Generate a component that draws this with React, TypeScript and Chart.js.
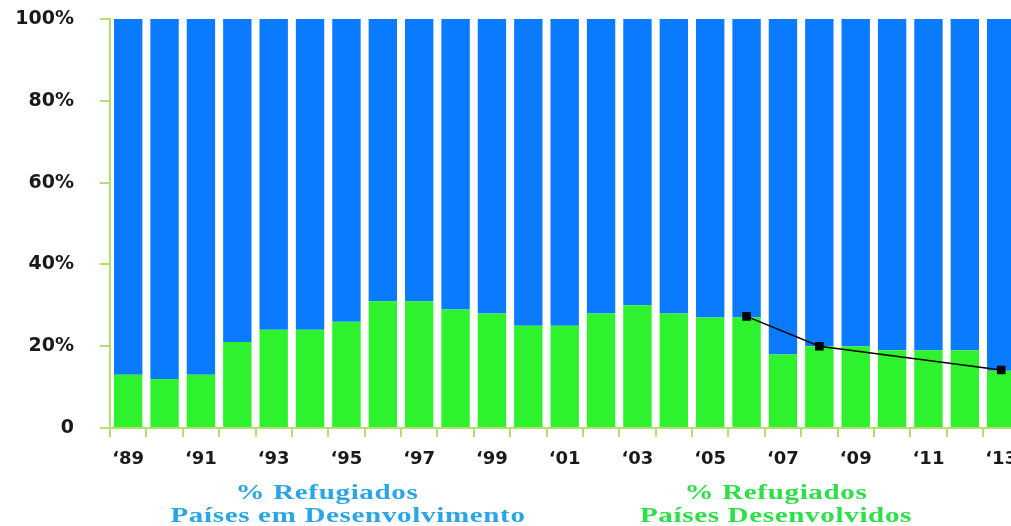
import React, { useEffect, useRef } from 'react';
import { Chart, registerables } from 'chart.js';

Chart.register(...registerables);

const years = ['89', '90', '91', '92', '93', '94', '95', '96', '97', '98', '99', '00', '01', '02', '03', '04', '05', '06', '07', '08', '09', '10', '11', '12', '13'];
const tickLabels = years.map((y) => '\u2018' + y);
const developedShare = [13, 12, 13, 21, 24, 24, 26, 31, 31, 29, 28, 25, 25, 28, 30, 28, 27, 27, 18, 20, 20, 19, 19, 19, 14];
const developingShare = [87, 88, 87, 79, 76, 76, 74, 69, 69, 71, 72, 75, 75, 72, 70, 72, 73, 73, 82, 80, 80, 81, 81, 81, 86];
const trendLine: (number | null)[] = [null, null, null, null, null, null, null, null, null, null, null, null, null, null, null, null, null, 27.3, null, 20, null, null, null, null, 14.2];
const yTicks = [0, 20, 40, 60, 80, 100];

const AXIS_COLOR = '#b9dc6e';
const BLUE = '#0a7aff';
const GREEN = '#2ef22e';

export default function App() {
  const ref = useRef<HTMLCanvasElement | null>(null);

  useEffect(() => {
    if (!ref.current) return;
    const chart = new Chart(ref.current, {
      type: 'bar',
      data: {
        labels: tickLabels,
        datasets: [
          {
            type: 'line',
            label: 'trend',
            data: trendLine,
            borderColor: '#000',
            backgroundColor: '#000',
            borderWidth: 1.5,
            pointStyle: 'rect',
            pointRadius: 5,
            spanGaps: true,
            stack: 'line',
            order: 0,
          } as any,
          {
            label: 'developed',
            data: developedShare,
            backgroundColor: GREEN,
            barPercentage: 0.78,
            categoryPercentage: 1,
            stack: 's',
            order: 1,
          },
          {
            label: 'developing',
            data: developingShare,
            backgroundColor: BLUE,
            barPercentage: 0.78,
            categoryPercentage: 1,
            stack: 's',
            order: 1,
          },
        ],
      },
      options: {
        responsive: false,
        animation: false,
        layout: { padding: { left: 0, right: 10.6, top: 19, bottom: 0 } },
        plugins: { legend: { display: false }, tooltip: { enabled: false } },
        scales: {
          x: {
            stacked: true,
            border: { color: AXIS_COLOR, width: 2 },
            grid: { drawOnChartArea: false, drawTicks: true, tickLength: 9, color: AXIS_COLOR, lineWidth: 2, offset: true },
            ticks: {
              autoSkip: false,
              maxRotation: 0,
              minRotation: 0,
              padding: 12,
              color: '#1a1a1a',
              font: { family: 'DejaVu Sans', weight: 'bold', size: 18 },
              callback: (_v: any, i: number) => (i % 2 === 0 ? tickLabels[i] : ''),
            },
            afterFit: (s: any) => {
              s.height = 98;
              s.paddingLeft = 0;
              s.paddingRight = 0;
            },
          },
          y: {
            stacked: true,
            min: 0,
            max: 100,
            border: { color: AXIS_COLOR, width: 2 },
            grid: { drawOnChartArea: false, drawTicks: true, tickLength: 10, color: AXIS_COLOR, lineWidth: 2 },
            afterBuildTicks: (s: any) => {
              s.ticks = yTicks.map((v) => ({ value: v }));
            },
            ticks: {
              padding: 26,
              color: '#1a1a1a',
              font: { family: 'DejaVu Sans', weight: 'bold', size: 19 },
              callback: (v: any) => (Number(v) === 0 ? '0' : v + '%'),
            },
            afterFit: (s: any) => {
              s.width = 110;
              s.paddingTop = 0;
              s.paddingBottom = 0;
            },
          },
        },
      },
    });
    return () => chart.destroy();
  }, []);

  const textBase: React.CSSProperties = {
    position: 'absolute',
    fontFamily: '"Liberation Serif", "Times New Roman", serif',
    fontWeight: 'bold',
    fontSize: 22,
    letterSpacing: 0.5,
    whiteSpace: 'nowrap',
    transform: 'translateX(-50%) scaleX(1.32)',
    lineHeight: '23px',
  };

  return (
    <div style={{ position: 'fixed', left: 0, top: 0, width: 1011, height: 526, overflow: 'hidden', background: '#fff' }}>
      <canvas ref={ref} width={1030} height={526} style={{ position: 'absolute', left: 0, top: 0, width: 1030, height: 526 }} />
      <div style={{ ...textBase, left: 327, top: 480, color: '#2aa6e6' }}>% Refugiados</div>
      <div style={{ ...textBase, left: 348, top: 503, color: '#2aa6e6' }}>Países em Desenvolvimento</div>
      <div style={{ ...textBase, left: 776, top: 480, color: '#2de04a' }}>% Refugiados</div>
      <div style={{ ...textBase, left: 776, top: 503, color: '#2de04a' }}>Países Desenvolvidos</div>
    </div>
  );
}
